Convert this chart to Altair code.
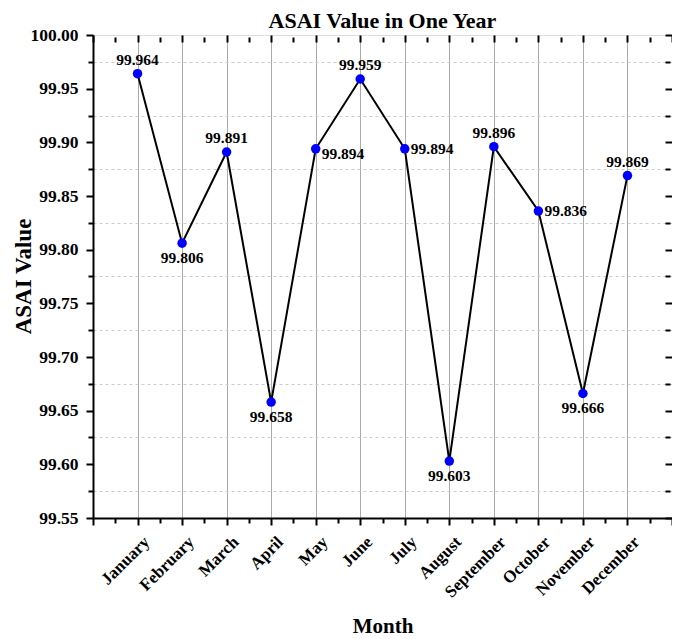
import altair as alt
import pandas as pd

months = ["January", "February", "March", "April", "May", "June", "July",
          "August", "September", "October", "November", "December"]
month_num = list(range(1, 13))
asai = [99.964, 99.806, 99.891, 99.658, 99.894, 99.959, 99.894,
        99.603, 99.896, 99.836, 99.666, 99.869]
label_place = ["above", "below", "above", "below", "rightlow", "above", "right",
               "below", "above", "right", "below", "above"]

x_ticks = [i / 2 for i in range(0, 27)]
y_ticks = [round(99.55 + 0.025 * i, 3) for i in range(0, 19)]

df = pd.DataFrame({"month": months, "m": month_num, "v": asai, "place": label_place})

FONT = "Liberation Serif"
names_expr = "[" + ",".join(f"'{m}'" for m in months) + "]"

W, H = 579, 483

xscale = alt.Scale(domain=[0, 13], nice=False, zero=False)
yscale = alt.Scale(domain=[99.55, 100.0], nice=False, zero=False)

x_axis = alt.Axis(
    values=x_ticks,
    title="Month", titleFont=FONT, titleFontSize=21, titleFontWeight="bold",
    titleColor="black", titleY=114, titleBaseline="alphabetic",
    labelExpr=f"datum.value % 1 === 0 && datum.value >= 1 && datum.value <= 12 ? {names_expr}[datum.value - 1] : ''",
    labelFont=FONT, labelFontSize=17, labelFontWeight="bold", labelColor="black",
    labelAngle=-45, labelAlign="right", labelBaseline="middle",
    labelPadding=14, labelOffset=9, labelOverlap=False,
    domainColor="black", domainWidth=2,
    tickColor="black", tickWidth=2,
    tickSize={"condition": {"test": "datum.value % 1 === 0", "value": 7}, "value": 5},
    grid=True, gridColor="#aaaaaa", gridWidth=1,
    gridOpacity={"condition": {"test": "datum.value % 1 === 0 && datum.value >= 1 && datum.value <= 12", "value": 1}, "value": 0},
)

y_axis = alt.Axis(
    values=y_ticks,
    title="ASAI Value", titleFont=FONT, titleFontSize=23, titleFontWeight="bold",
    titleColor="black", titleX=-63, titleY=241, titleBaseline="alphabetic", titleAngle=270,
    labelExpr="round(datum.value * 1000) % 50 === 0 ? format(datum.value, '.2f') : ''",
    labelFont=FONT, labelFontSize=17.5, labelFontWeight="bold", labelColor="black",
    labelPadding=8, labelOverlap=False,
    domainColor="black", domainWidth=2,
    tickColor="black", tickWidth=2,
    tickSize={"condition": {"test": "round(datum.value * 1000) % 50 === 0", "value": 7}, "value": 5},
    grid=True, gridColor="#cccccc", gridWidth=1, gridDash=[3, 3],
    gridOpacity={"condition": {"test": "round(datum.value * 1000) % 50 !== 0", "value": 1}, "value": 0},
)

x_axis_top = alt.Axis(
    orient="top", values=x_ticks, labels=False, title=None, domain=False, grid=False,
    offset=-7, tickColor="black", tickWidth=2,
    tickSize={"condition": {"test": "datum.value % 1 === 0", "value": 7}, "value": 5},
)
y_axis_right = alt.Axis(
    orient="right", values=y_ticks, labels=False, title=None, domain=False, grid=False,
    offset=-7, tickColor="black", tickWidth=2,
    tickSize={"condition": {"test": "round(datum.value * 1000) % 50 === 0", "value": 7}, "value": 5},
)

base = alt.Chart(df)

line = base.mark_line(color="black", strokeWidth=2).encode(
    x=alt.X("m:Q", scale=xscale, axis=x_axis),
    y=alt.Y("v:Q", scale=yscale, axis=y_axis),
)

frame = base.mark_point(opacity=0).encode(
    x=alt.X("m:Q", scale=xscale, axis=x_axis_top),
    y=alt.Y("v:Q", scale=yscale, axis=y_axis_right),
)

pts = base.mark_circle(color="#0000ff", size=90, opacity=1).encode(
    x=alt.X("m:Q", scale=xscale, axis=None),
    y=alt.Y("v:Q", scale=yscale, axis=None),
)

def lab(place, **kw):
    return base.transform_filter(alt.datum.place == place).mark_text(
        font=FONT, fontSize=15.5, fontWeight="bold", color="black", **kw
    ).encode(
        x=alt.X("m:Q", scale=xscale, axis=None),
        y=alt.Y("v:Q", scale=yscale, axis=None),
        text=alt.Text("v:Q", format=".3f"),
    )

labels = [
    lab("above", dy=-14),
    lab("below", dy=15),
    lab("right", align="left", dx=6),
    lab("rightlow", align="left", dx=6, dy=5),
]

chart = alt.layer(line, frame, pts, *labels).resolve_axis(
    x="independent", y="independent"
).properties(
    width=W, height=H,
    title=alt.TitleParams("ASAI Value in One Year", font=FONT, fontSize=22,
                          fontWeight="bold", color="black", offset=8, dy=15),
    autosize=alt.AutoSizeParams(type="none"),
    padding={"left": 85, "top": 27, "right": 0, "bottom": 120},
).configure_view(stroke="black", strokeWidth=2).configure(background="white")

chart.save("out.html", embed_options={"renderer": "svg", "actions": False})
